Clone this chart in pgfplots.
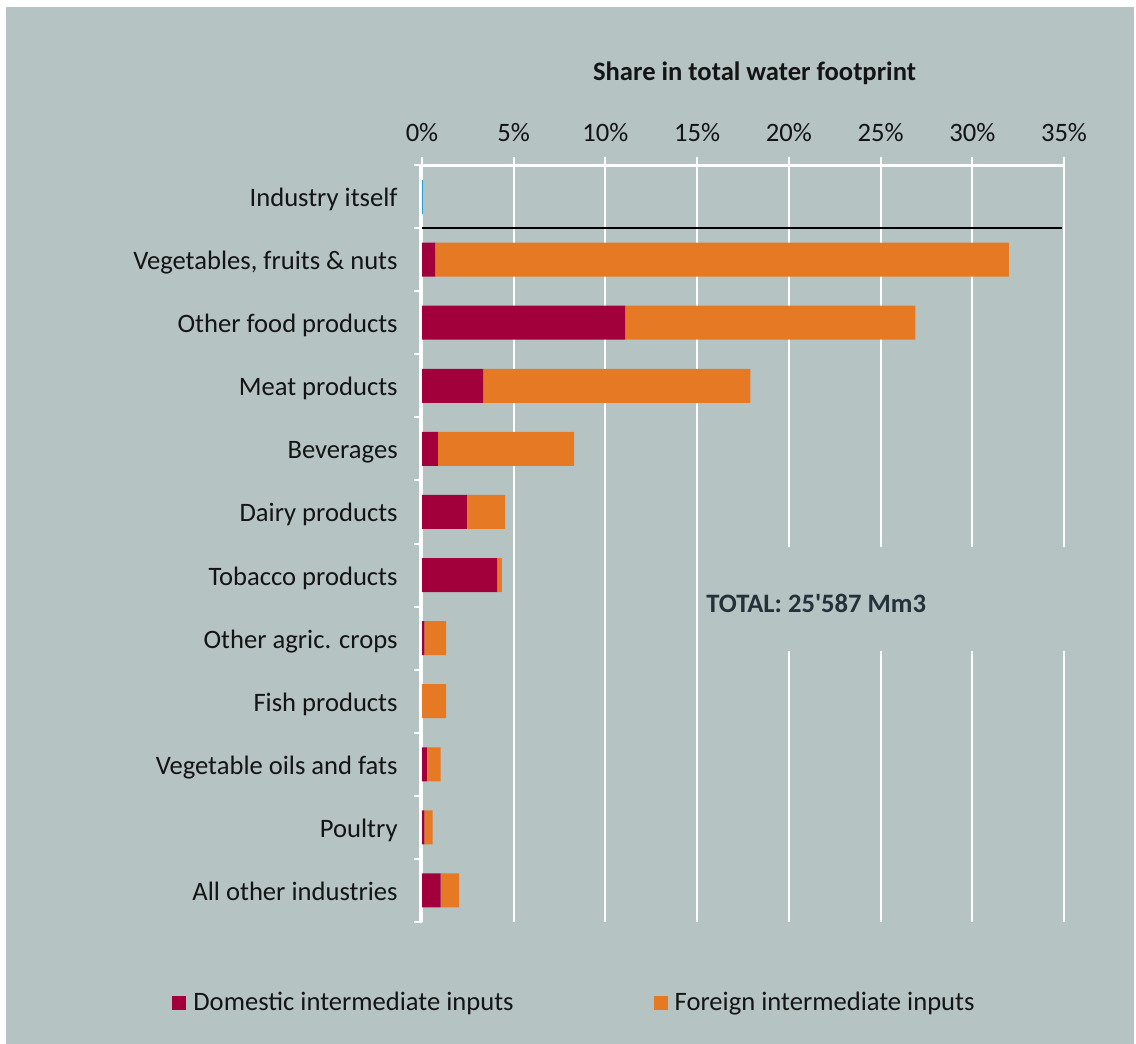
\documentclass[border=0pt]{standalone}
\usepackage{pgfplots}
\pgfplotsset{compat=1.18}
\usepackage{pgfplotstable}
\usepackage{fontspec}
\setmainfont{Carlito}
\definecolor{bg}{RGB}{181,195,194}
\definecolor{domc}{RGB}{161,0,58}
\definecolor{forc}{RGB}{230,122,36}
\definecolor{blu}{RGB}{38,155,211}
\definecolor{txt}{RGB}{20,20,20}
\definecolor{tot}{RGB}{35,50,58}
\definecolor{wht}{RGB}{255,255,255}

\pgfplotstableread{
idx blue dom for
1 0.07 0 0
2 0 0.71 31.29
3 0 11.07 15.83
4 0 3.33 14.57
5 0 0.87 7.42
6 0 2.45 2.08
7 0 4.09 0.27
8 0 0.13 1.18
9 0 0 1.31
10 0 0.27 0.75
11 0 0.13 0.45
12 0 1.02 1.01
}\datatable

\begin{document}
\begin{tikzpicture}[font=\fontsize{13.3bp}{16bp}\selectfont]
\fill[white] (0,0) rectangle (568bp,522bp);
\fill[bg] (3bp,0) rectangle (567bp,518.5bp);
\begin{axis}[
  at={(211bp,61bp)}, anchor=south west,
  scale only axis, width=321bp, height=378.5bp,
  clip=false,
  xbar stacked, bar width=17bp,
  xmin=0, xmax=35, ymin=0.5, ymax=12.5, y dir=reverse,
  axis x line*=top, axis y line*=left,
  axis line style={draw=none},
  xtick={0,5,...,35},
  xticklabel={\pgfmathprintnumber{\tick}\%},
  /pgf/number format/assume math mode=true,
  ytick={1,...,12},
  yticklabels={Industry itself, {Vegetables, fruits \& nuts}, Other food products, Meat products, Beverages, Dairy products, Tobacco products, Other agric. crops, Fish products, Vegetable oils and fats, Poultry, All other industries},
  minor ytick={0.5,1.5,...,12.5},
  tick align=outside,
  major tick length=4bp, minor tick length=4bp,
  every tick/.style={wht, line width=1bp},
  every major y tick/.append style={draw=none},
  xmajorgrids, ymajorgrids=false,
  grid style={wht, line width=1bp},
  xticklabel style={anchor=base, inner sep=0pt, yshift=8bp, text=txt},
  yticklabel style={anchor=base east, inner sep=0pt, xshift=-8bp, yshift=-5bp, text=txt},
  legend style={at={(-0.3894,-0.107)}, anchor=west, draw=none, fill=none, inner sep=0pt,
    font=\fontsize{13.3bp}{16bp}\selectfont, text=txt,
    /tikz/every even column/.append style={column sep=68bp}},
  legend columns=2,
  legend cell align=left,
  legend image code/.code={\fill[#1] (0bp,-3.5bp) rectangle (7bp,3.5bp); \path (8.5bp,0bp);},
]
% axis lines, drawn before the bars
\draw[wht, line width=1.5bp] (axis cs:-0.08,12.5) -- (axis cs:-0.08,0.5) -- (axis cs:35.05,0.5);
\addplot[fill=blu, draw=none, forget plot] table[x=blue,y=idx]{\datatable};
\addplot[fill=domc, draw=none] table[x=dom,y=idx]{\datatable};
\addplot[fill=forc, draw=none] table[x=for,y=idx]{\datatable};
\legend{Domestic intermediate inputs, Foreign intermediate inputs}
\draw[black, line width=1.2bp] (axis cs:0,1.5) -- (axis cs:34.9,1.5);
\end{axis}
% box hiding the grid behind the total
\fill[bg] (350bp,196.5bp) rectangle (552bp,248.5bp);
\node[anchor=west, inner sep=0pt, text=tot, font=\bfseries\fontsize{13.3bp}{16bp}\selectfont] at (353bp,220.5bp) {TOTAL: 25\textquotesingle587 Mm3};
\node[anchor=base, text=txt, font=\bfseries\fontsize{13.3bp}{16bp}\selectfont] at (377.25bp,481.5bp) {Share in total water footprint};
\pgfresetboundingbox
\useasboundingbox (0,0) rectangle (568bp,522bp);
\end{tikzpicture}
\end{document}
